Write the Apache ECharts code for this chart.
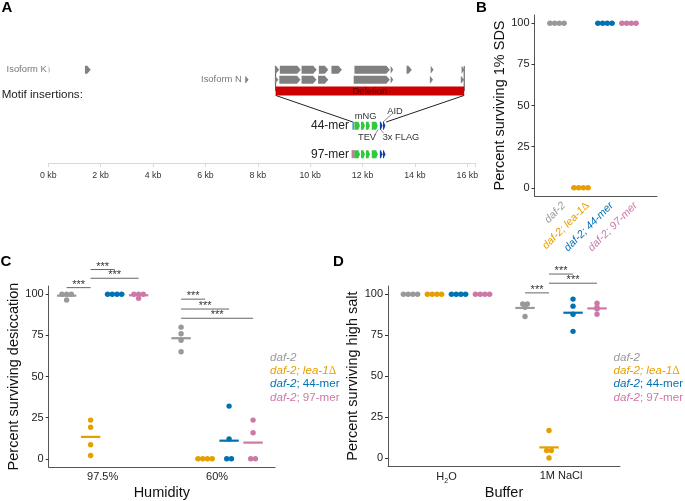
<!DOCTYPE html>
<html><head><meta charset="utf-8">
<style>html,body{margin:0;padding:0;background:#fff}#c{width:685px;height:501px}</style>
<script src="https://cdn.jsdelivr.net/npm/echarts@6/dist/echarts.min.js"></script>
</head><body><div id="c"></div>
<script>
// ---------- data ----------
const strains = ['daf-2', 'daf-2; lea-1Δ', 'daf-2; 44-mer', 'daf-2; 97-mer'];
const yTicks = [0, 25, 50, 75, 100];
const humidityLabels = ['97.5%', '60%'];
const bufferLabels = ['H2O', '1M NaCl'];
const kbTicksInterval = 2;

// percent surviving, one inner list per strain
const sdsValues = [[100,100,100,100],[0,0,0,0],[100,100,100,100],[100,100,100,100]];
const humidity975 = [[100,100,100,96.5],[23.5,19.2,8.5,2],[100,100,100,100],[100,100,100,97.5]];
const humidity60 = [[80,76,72,65],[0,0,0,0],[32,12,0,0],[23.5,15.8,0,0]];
const saltWater = [[100,100,100,100],[100,100,100,100],[100,100,100,100],[100,100,100,100]];
const saltNaCl = [[94,94,92,86.4],[16.7,4.5,4.5,0],[97,92.7,87.7,77.3],[94.5,92,91,87.7]];

// significance brackets: group, strain a, strain b, height
const bracketsC = [[0,0,1,104],[0,1,2,115],[0,1,3,109.7],[1,0,1,97],[1,0,2,91],[1,0,3,85.4]];
const bracketsD = [[1,0,1,100.8],[1,1,2,112.3],[1,1,3,106.7]];

// gene model, kb [start, end]
const isoformK = [[0.02,0.05],[1.40,1.62],[8.65,8.82],[8.84,9.64],[9.67,10.25],[10.33,10.69],[10.81,11.21],[11.69,13.04],[13.07,13.17],[13.68,13.88],[14.60,14.71],[15.78,15.89]];
const isoformN = [[7.52,7.65],[8.65,8.79],[8.82,9.63],[9.67,10.24],[10.30,10.69],[11.66,13.04],[13.07,13.17],[14.57,14.69],[15.75,15.88]];
const deletionSpan = [8.68, 15.88];
const motifTev = [[11.69,11.90],[11.94,12.09],[12.13,12.28],[12.35,12.58]];
const motifFlag = [[12.66,12.76],[12.78,12.87]];
const lead44 = [11.61, 11.68];
const lead97 = [11.58, 11.70];

// ---------- styling and layout ----------
const COL = ['#999999', '#E69F00', '#0072B2', '#CC79A7'];
const FONT = '"Liberation Sans", Arial, sans-serif';
const ROW = {k: 69.7, n: 79.7, del: 91, m44: 125.8, m97: 154.2, bottom: 163};
const DOT = 5.4, DOT_STEP = 4.7, BAR_HALF = 9.7, DODGE_PX = 24;
const ROTATED_LABEL_SHIFT = 0.12;

const richBase = size => {
  const it = (c) => ({color:c, fontStyle:'italic', fontSize:size, fontFamily:FONT});
  const up = (c) => ({color:c, fontSize:size, fontFamily:FONT});
  return {
    gi: it(COL[0]), oi: it(COL[1]), bi: it(COL[2]), pi: it(COL[3]),
    ou: {color:COL[1], fontSize:size, fontFamily:'"Liberation Serif", serif'},
    b: up(COL[2]), p: up(COL[3])
  };
};
const strainRich = (s, axisStyle) => {
  const i = strains.indexOf(s);
  if (i === 0) return '{gi|daf-2}';
  if (i === 1) return '{oi|daf-2; lea-1}{ou|Δ}';
  if (i === 2) return axisStyle ? '{bi|daf-2; 44-mer}' : '{bi|daf-2}{b|; 44-mer}';
  return axisStyle ? '{pi|daf-2; 97-mer}' : '{pi|daf-2}{p|; 97-mer}';
};

// ---------- helpers ----------
const series = [];
function swarm(vals) { // centred rows of tied values, px offsets
  const out = [], seen = {};
  vals.forEach(v => { (seen[v] = seen[v] || []).push(v); });
  Object.keys(seen).forEach(k => {
    const n = seen[k].length;
    seen[k].forEach((v, i) => out.push([(i - (n - 1) / 2) * DOT_STEP, v]));
  });
  return out;
}
function addStrain(axis, idx, x, vals, pxUnit) {
  series.push({type:'scatter', name:strains[idx], xAxisIndex:axis, yAxisIndex:axis, symbolSize:DOT,
    itemStyle:{color:COL[idx], opacity:1}, z:2, silent:true,
    data:swarm(vals).map(p => [x + p[0] * pxUnit, p[1]])});
  const mean = vals.reduce((a, b) => a + b, 0) / vals.length;
  series.push({type:'custom', name:strains[idx], xAxisIndex:axis, yAxisIndex:axis, z:3, silent:true,
    data:[[x, mean]],
    renderItem:(p, api) => {
      const c = api.coord([api.value(0), api.value(1)]);
      return {type:'line', shape:{x1:c[0]-BAR_HALF, y1:c[1], x2:c[0]+BAR_HALF, y2:c[1]},
        style:{stroke:COL[idx], lineWidth:2.2}};
    }});
}
const pxUnitGroup = 1 / 114.5;
const dodge = i => (i - 1.5) * DODGE_PX * pxUnitGroup;
function addBrackets(axis, list) {
  series.push({type:'custom', xAxisIndex:axis, yAxisIndex:axis, z:4, silent:true, clip:false,
    data:list.map(b => [b[0]+1+dodge(b[1]), b[0]+1+dodge(b[2]), b[3]]),
    renderItem:(p, api) => {
      const a = api.coord([api.value(0), api.value(2)]), b = api.coord([api.value(1), api.value(2)]);
      return {type:'group', children:[
        {type:'line', shape:{x1:a[0], y1:a[1], x2:b[0], y2:b[1]}, style:{stroke:'#666', lineWidth:1}},
        {type:'text', style:{text:'***', x:(a[0]+b[0])/2, y:a[1]+2.5, align:'center', verticalAlign:'bottom',
          font:'11px '+FONT, fill:'#333'}}
      ]};
    }});
}
function axisY(grid, name, gap) {
  return {type:'value', gridIndex:grid, min:-5, max:105, name, nameLocation:'middle', nameGap:gap,
    nameTextStyle:{fontFamily:FONT, fontSize:14.5, color:'#111'},
    axisLine:{show:true, lineStyle:{color:'#555', width:1}},
    axisTick:{show:true, length:3, lineStyle:{color:'#333'}, customValues:yTicks},
    axisLabel:{color:'#222', fontFamily:FONT, fontSize:11, margin:5, customValues:yTicks},
    splitLine:{show:false}};
}
function axisXGroups(grid, name, min, max, labels, rich) {
  return {type:'value', gridIndex:grid, min, max, name, nameLocation:'middle', nameGap:18,
    nameTextStyle:{fontFamily:FONT, fontSize:14.5, color:'#111'},
    axisLine:{show:true, onZero:false, lineStyle:{color:'#555', width:1}},
    axisTick:{show:false, customValues:[1,2]},
    axisLabel:{color:'#222', fontFamily:FONT, fontSize:11, margin:4, customValues:[1,2],
      formatter:v => rich ? rich(labels[v-1]) : labels[v-1],
      rich:{s:{fontSize:7, fontFamily:FONT, color:'#222', padding:[7,0,0,0]}, t:{fontSize:11, fontFamily:FONT, color:'#222'}}},
    splitLine:{show:false}};
}

// ---------- panel B, C, D marks ----------
sdsValues.forEach((v, i) => addStrain(1, i, i + 1, v, 1 / DODGE_PX));
[humidity975, humidity60].forEach((g, k) => g.forEach((v, i) => addStrain(2, i, k + 1 + dodge(i), v, pxUnitGroup)));
[saltWater, saltNaCl].forEach((g, k) => g.forEach((v, i) => addStrain(3, i, k + 1 + dodge(i), v, pxUnitGroup)));
addBrackets(2, bracketsC);
addBrackets(3, bracketsD);

// ---------- panel A marks ----------
function polyExon(x0, x1, y, h, head, col) {
  const a = Math.min(head, (x1 - x0));
  return {type:'polygon', shape:{points:[[x0,y-h/2],[x1-a,y-h/2],[x1,y],[x1-a,y+h/2],[x0,y+h/2]]}, style:{fill:col}};
}
function addBlocks(list, y, h, head, col, z) {
  series.push({type:'custom', xAxisIndex:0, yAxisIndex:0, z:z||2, silent:true, clip:false,
    data:list.map(e => [e[0], e[1], y]),
    renderItem:(p, api) => {
      const a = api.coord([api.value(0), api.value(2)]), b = api.coord([api.value(1), api.value(2)]);
      return polyExon(a[0], b[0], a[1], h, head, col);
    }});
}
function addLines(list, col, w, z) {
  series.push({type:'custom', xAxisIndex:0, yAxisIndex:0, z:z||1, silent:true, clip:false,
    data:list,
    renderItem:(p, api) => {
      const a = api.coord([api.value(0), api.value(1)]), b = api.coord([api.value(2), api.value(3)]);
      return {type:'line', shape:{x1:a[0], y1:a[1], x2:b[0], y2:b[1]}, style:{stroke:col, lineWidth:w}};
    }});
}
addLines([[deletionSpan[0],66,deletionSpan[0],ROW.del],[deletionSpan[1],66,deletionSpan[1],ROW.del]], '#222', 0.8, 1);
addBlocks(isoformK, ROW.k, 8, 3.5, '#808080');
addBlocks(isoformN, ROW.n, 8, 3.5, '#808080');
series.push({type:'custom', xAxisIndex:0, yAxisIndex:0, z:2, silent:true, clip:false,
  data:[[deletionSpan[0], deletionSpan[1], ROW.del]],
  renderItem:(p, api) => {
    const a = api.coord([api.value(0), api.value(2)]), b = api.coord([api.value(1), api.value(2)]);
    return {type:'group', children:[
      {type:'rect', shape:{x:a[0], y:a[1]-4.4, width:b[0]-a[0], height:8.8}, style:{fill:'#cc0000'}},
      {type:'text', style:{text:'Deletion', x:(a[0]+b[0])/2, y:a[1], align:'center', verticalAlign:'middle', font:'9.5px '+FONT, fill:'#4a0000'}}
    ]};
  }});
addLines([[deletionSpan[0],95.4,11.63,122],[deletionSpan[1],95.4,12.9,122]], '#222', 1, 1);
addLines([[13.12,114,12.78,122],[12.47,135,12.59,129.5],[12.80,133,12.67,129]], '#444', 0.6, 1);
addBlocks([lead44], ROW.m44, 8, 0, '#4f9bd0');
addBlocks([lead97], ROW.m97, 8, 0, '#CC79A7');
addBlocks(motifTev, ROW.m44, 8, 1.6, '#2fc93a');
addBlocks(motifTev, ROW.m97, 8, 1.6, '#2fc93a');
addBlocks(motifFlag, ROW.m44, 8, 1.6, '#0d3fae');
addBlocks(motifFlag, ROW.m97, 8, 1.6, '#0d3fae');

// ---------- text of panel A and panel letters ----------
const txt = (text, x, y, size, align, fill, weight) => ({type:'text', x, y, silent:true, z:10,
  style:{text, font:(weight?weight+' ':'')+size+'px '+FONT, fill, textAlign:align, textVerticalAlign:'middle'}});
const graphicText = [
  txt('A',1.5,8,15,'left','#000','bold'), txt('B',476,8,15,'left','#000','bold'),
  txt('C',0.5,262,15,'left','#000','bold'), txt('D',333,262,15,'left','#000','bold'),
  txt('Isoform K',46.7,69.7,9.4,'right','#777'), txt('Isoform N',241.7,79.7,9.4,'right','#777'),
  txt('Motif insertions:',1.7,94.3,11.6,'left','#222'),
  txt('44-mer',349,125.5,12,'right','#222'), txt('97-mer',349,154.3,12,'right','#222'),
  txt('mNG',365.7,116.3,9.3,'center','#333'), txt('AID',395,111,9.3,'center','#333'),
  txt('TEV',367,137.7,9.3,'center','#333'), txt('3x FLAG',401,137.7,9.3,'center','#333')
];

const legendOf = (left) => ({orient:'vertical', left, top:351, padding:0, itemGap:0.3, itemWidth:0, itemHeight:0,
  selectedMode:false, data:strains.map(name => ({name, icon:'rect'})),
  formatter:name => strainRich(name, false),
  textStyle:{fontSize:11.6, fontFamily:FONT, lineHeight:13, rich:richBase(11.6)}});

const option = {
  animation:false, backgroundColor:'#fff', textStyle:{fontFamily:FONT},
  grid:[
    {left:48.3, top:0, width:426.9, height:ROW.bottom},
    {left:534.5, top:15, width:122.5, height:181},
    {left:48.7, top:286, width:226.3, height:181},
    {left:388, top:286, width:232, height:181}
  ],
  xAxis:[
    {type:'value', gridIndex:0, min:0, max:16.3, interval:kbTicksInterval,
      axisLine:{show:true, onZero:false, lineStyle:{color:'#d9d9d9', width:1}},
      axisTick:{show:true, length:4, lineStyle:{color:'#d9d9d9'}},
      axisLabel:{color:'#333', fontFamily:FONT, fontSize:8.8, margin:8, showMaxLabel:true,
        formatter:v => v % 2 === 0 ? v + ' kb' : ''},
      splitLine:{show:false}},
    {type:'value', gridIndex:1, min:0.0625, max:5.17,
      axisLine:{show:true, onZero:false, lineStyle:{color:'#555', width:1}},
      axisTick:{show:false},
      axisLabel:{customValues:strains.map((s, i) => i + 1 + ROTATED_LABEL_SHIFT), rotate:45, align:'right', verticalAlign:'top', margin:4,
        fontSize:10.8, fontFamily:FONT, rich:richBase(10.8), formatter:v => strainRich(strains[Math.round(v)-1], true)},
      splitLine:{show:false}},
    axisXGroups(2, 'Humidity', 0.529, 2.506, humidityLabels),
    axisXGroups(3, 'Buffer', 0.489, 2.515, bufferLabels, s => s === 'H2O' ? '{t|H}{s|2}{t|O}' : '{t|'+s+'}')
  ],
  yAxis:[
    {type:'value', gridIndex:0, min:0, max:ROW.bottom, inverse:true, show:false},
    axisY(1, 'Percent surviving 1% SDS', 24.5),
    axisY(2, 'Percent surviving desiccation', 24),
    axisY(3, 'Percent surviving high salt', 24)
  ],
  legend:[legendOf(265), legendOf(608.5)],
  series,
  graphic:{elements:graphicText}
};
const chart = echarts.init(document.getElementById('c'), null, {renderer:'canvas', width:685, height:501});
chart.setOption(option);
</script></body></html>
